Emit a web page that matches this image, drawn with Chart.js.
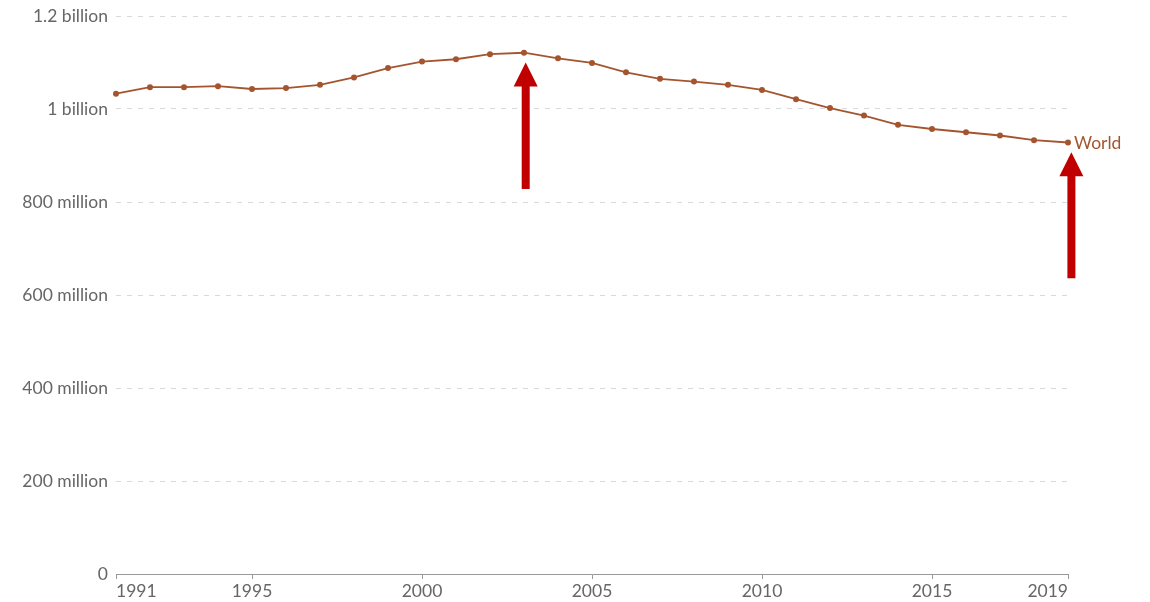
<!DOCTYPE html>
<html>
<head>
<meta charset="utf-8">
<script src="https://cdn.jsdelivr.net/npm/chart.js@4/dist/chart.umd.min.js"></script>
<style>
  html,body{margin:0;padding:0;background:#fff;}
  #wrap{width:1150px;height:602px;}
</style>
</head>
<body>
<div id="wrap"><canvas id="c"></canvas></div>
<script>
// data
const years=[1991,1992,1993,1994,1995,1996,1997,1998,1999,2000,2001,2002,2003,2004,2005,2006,2007,2008,2009,2010,2011,2012,2013,2014,2015,2016,2017,2018,2019];
const world=[1.033,1.047,1.047,1.049,1.043,1.045,1.052,1.068,1.088,1.102,1.107,1.118,1.121,1.109,1.099,1.079,1.065,1.059,1.052,1.041,1.021,1.002,0.986,0.966,0.957,0.950,0.943,0.933,0.928].map(v=>v*1e9);
const xTicks=[1991,1995,2000,2005,2010,2015,2019];
const yTicks=[0,2e8,4e8,6e8,8e8,1e9,1.2e9];
const seriesName='World';
// annotation arrows: [year, tail value, tip value]
const arrows=[[2003.05,0.828e9,1.100e9],[2019.1,0.636e9,0.907e9]];

const lineColor='#a4552f';
const textColor='#666';
const fontSize=17.5;

function fmt(v){
  if(v===0)return '0';
  if(v>=1e9)return (v/1e9)+' billion';
  return (v/1e6)+' million';
}

const extras={
  id:'extras',
  afterDraw(chart){
    const ctx=chart.ctx, xs=chart.scales.x, ys=chart.scales.y;
    ctx.save();
    // x tick labels: first left aligned, last right aligned
    ctx.font=fontSize+'px Lato';
    ctx.fillStyle=textColor;
    ctx.textBaseline='middle';
    xTicks.forEach((t,i)=>{
      ctx.textAlign=i===0?'left':(i===xTicks.length-1?'right':'center');
      ctx.fillText(String(t),xs.getPixelForValue(t),ys.bottom+17);
    });
    // series label
    const lx=xs.getPixelForValue(years[years.length-1]);
    const ly=ys.getPixelForValue(world[world.length-1]);
    ctx.fillStyle=lineColor;
    ctx.textAlign='left';
    ctx.fillText(seriesName,lx+6,ly+1);
    // arrows
    ctx.fillStyle='#c00000';
    arrows.forEach(([yr,from,to])=>{
      const x=xs.getPixelForValue(yr);
      const y0=ys.getPixelForValue(from), y1=ys.getPixelForValue(to);
      const hh=24, hw=12, sw=4;
      ctx.fillRect(x-sw,y1+hh-1,sw*2,y0-(y1+hh-1));
      ctx.beginPath();
      ctx.moveTo(x,y1);
      ctx.lineTo(x+hw,y1+hh);
      ctx.lineTo(x-hw,y1+hh);
      ctx.closePath();
      ctx.fill();
    });
    ctx.restore();
  }
};

new Chart(document.getElementById('c'),{
  type:'line',
  data:{
    datasets:[{
      label:seriesName,
      data:years.map((y,i)=>({x:y,y:world[i]})),
      borderColor:lineColor,
      backgroundColor:lineColor,
      borderWidth:1.8,
      pointRadius:2.1,
      pointHoverRadius:3,
      tension:0,
      clip:false
    }]
  },
  options:{
    responsive:true,
    maintainAspectRatio:false,
    animation:false,
    layout:{padding:{top:16,right:82,left:0,bottom:0}},
    plugins:{legend:{display:false},tooltip:{enabled:false}},
    scales:{
      x:{
        type:'linear',
        min:1991,max:2019,
        afterBuildTicks(s){s.ticks=xTicks.map(v=>({value:v}));},
        afterFit(s){s.height=28;s.paddingLeft=0;s.paddingRight=0;},
        grid:{display:true,drawOnChartArea:false,drawTicks:true,tickLength:5,color:'#999'},
        border:{display:true,color:'#999'},
        ticks:{color:'rgba(0,0,0,0)',font:{family:'Lato',size:fontSize},maxRotation:0}
      },
      y:{
        min:0,max:1.2e9,
        afterBuildTicks(s){s.ticks=yTicks.map(v=>({value:v}));},
        afterFit(s){s.width=116;s.paddingTop=0;s.paddingBottom=0;},
        grid:{color:'#d9d9d9',drawTicks:false},
        border:{display:false,dash:[5,6]},
        ticks:{color:textColor,padding:8,font:{family:'Lato',size:fontSize},callback:v=>fmt(v)}
      }
    }
  },
  plugins:[extras]
});
</script>
</body>
</html>
